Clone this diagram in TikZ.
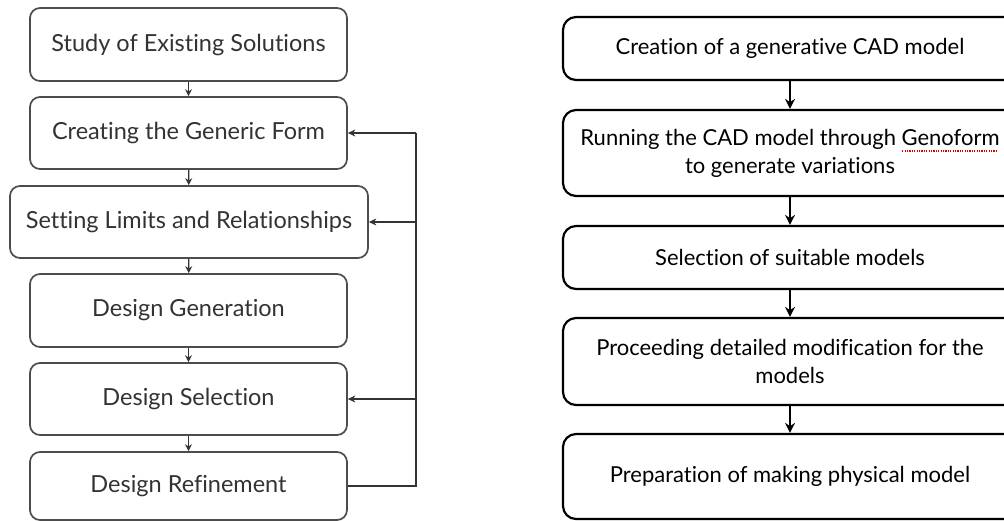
\documentclass[tikz,border=0pt]{standalone}
\usepackage{fontspec}
\setmainfont{Lato}[Ligatures=NoCommon]
\usetikzlibrary{arrows.meta}
\newcommand\spellerr[1]{\setbox0=\hbox{#1}\leavevmode\rlap{\raisebox{-0.3em}{\color{red!85!black}\hbox to \wd0{\leaders\hbox to 2.4pt{\hss\rule{1.2pt}{1.2pt}\hss}\hfill}}}\box0}
\begin{document}
\begin{tikzpicture}[x=1pt,y=-1pt,
  lbox/.style={draw=black!70, line width=1.7pt, rounded corners=10pt, fill=white,
    text=black!80, font=\fontsize{23.5}{28}\selectfont, inner sep=0pt, align=center},
  rbox/.style={draw=black, line width=2.2pt, rounded corners=13pt, fill=white,
    text=black, minimum width=454pt, font=\fontsize{22}{28}\selectfont, inner sep=0pt, align=center},
  larr/.style={draw=black!80, line width=1.4pt, -{Stealth[length=7pt,width=7pt]}},
  rarr/.style={draw=black, line width=2pt, -{Stealth[length=10pt,width=10pt]}},
  fb/.style={draw=black!80, line width=1.7pt}
]
\useasboundingbox (0,0) rectangle (1004,520);
\clip (0,0) rectangle (1004,520);
\fill[white] (0,0) rectangle (1004,520);

% left column
\node[lbox, minimum width=317pt, minimum height=73pt] (b1) at (188.5,44.5) {Study of Existing Solutions};
\node[lbox, minimum width=317pt, minimum height=72pt] (b2) at (188.5,133) {Creating the Generic Form};
\node[lbox, minimum width=358pt, minimum height=72pt] (b3) at (189,222) {Setting Limits and Relationships};
\node[lbox, minimum width=317pt, minimum height=73pt] (b4) at (188.5,310.5) {Design Generation};
\node[lbox, minimum width=317pt, minimum height=72pt] (b5) at (188.5,399) {Design Selection};
\node[lbox, minimum width=317pt, minimum height=68pt] (b6) at (188.5,486) {Design Refinement};

\draw[larr] (b1) -- (b2);
\draw[larr] (b2) -- (b3);
\draw[larr] (b3) -- (b4);
\draw[larr] (b4) -- (b5);
\draw[larr] (b5) -- (b6);

\coordinate (fbot) at (416,486);
\coordinate (ftop) at (416,133);
\coordinate (fmid1) at (416,222);
\coordinate (fmid2) at (416,399);
\draw[fb] (b6.east) -- (fbot) -- (ftop);
\draw[fb, -{Stealth[length=7.5pt,width=7pt]}] (ftop) -- (b2.east);
\draw[fb, -{Stealth[length=7.5pt,width=7pt]}] (fmid1) -- (b3.east);
\draw[fb, -{Stealth[length=7.5pt,width=7pt]}] (fmid2) -- (b5.east);

% right column
\node[rbox, minimum height=63pt] (r1) at (790,48.5) {Creation of a generative CAD model};
\node[rbox, minimum height=86pt] (r2) at (790,153) {Running the CAD model through \spellerr{Genoform}\\to generate variations};
\node[rbox, minimum height=63pt] (r3) at (790,257.5) {Selection of suitable models};
\node[rbox, minimum height=87pt] (r4) at (790,361.5) {Proceeding detailed modification for the\\models};
\node[rbox, minimum height=85pt] (r5) at (790,476.5) {Preparation of making physical model};

\draw[rarr] (r1) -- (r2);
\draw[rarr] (r2) -- (r3);
\draw[rarr] (r3) -- (r4);
\draw[rarr] (r4) -- (r5);
\end{tikzpicture}
\end{document}
